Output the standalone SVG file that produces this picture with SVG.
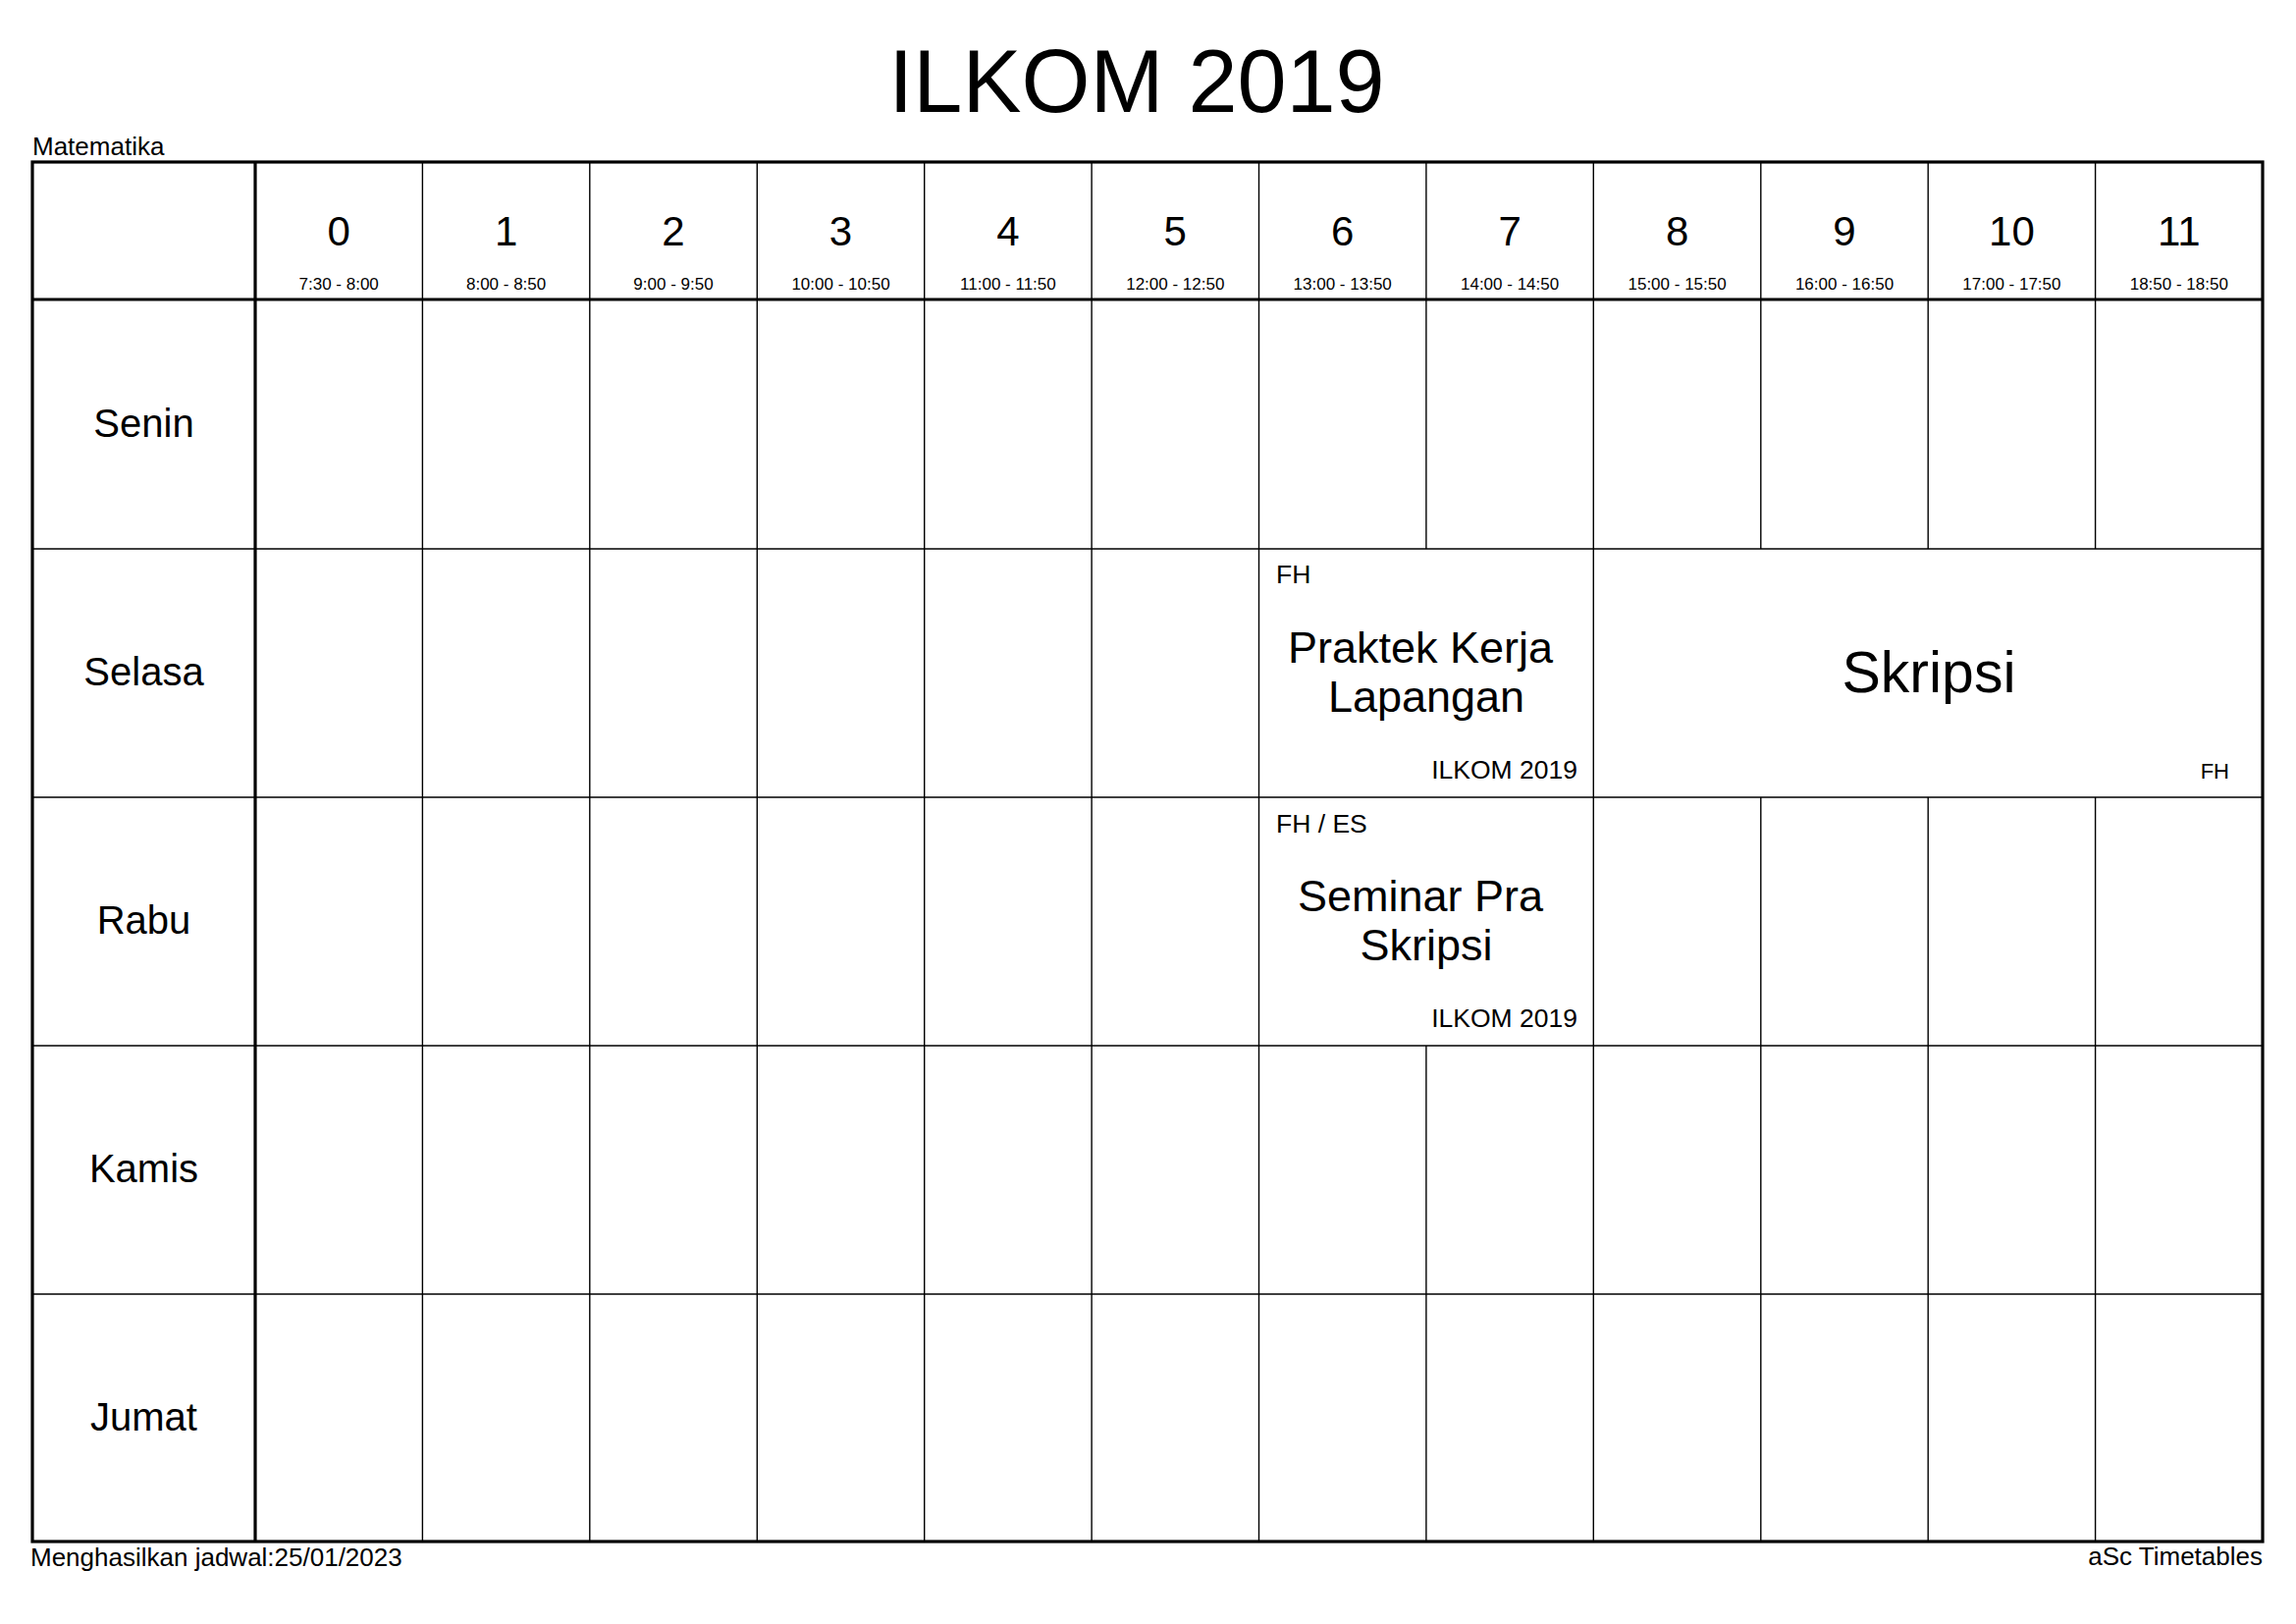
<svg xmlns="http://www.w3.org/2000/svg" width="2339" height="1654" viewBox="0 0 2339 1654">
<style>
text{font-family:"Liberation Sans",Arial,sans-serif;fill:#000}
.c{text-anchor:middle}
.e{text-anchor:end}
.num{font-size:42px}
.tm{font-size:17px}
.day{font-size:40px}
.sm{font-size:26px}
.cs{font-size:26.5px}
.subj{font-size:45px}
.thin{stroke:#000;stroke-width:1.4;fill:none}
.thick{stroke:#000;stroke-width:3.2;fill:none}
</style>
<rect width="2339" height="1654" fill="#fff"/>
<g id="title"><text class="c" x="1158" y="114" font-size="90">ILKOM 2019</text></g>
<g id="labels">
<text class="sm" x="33" y="158">Matematika</text>
<text class="sm" x="31" y="1595">Menghasilkan jadwal:25/01/2023</text>
<text class="sm e" x="2305" y="1594">aSc Timetables</text>
</g>
<g id="grid">
<g class="thin">
<path d="M33 559H2305M33 812H2305M33 1065H2305M33 1318H2305"/>
<path d="M430.4 165V1570M600.8 165V1570M771.3 165V1570M941.7 165V1570M1112.1 165V1570M1282.5 165V1570M1623.3 165V1570"/>
<path d="M1452.9 165V559M1452.9 1065V1570"/>
<path d="M1793.8 165V559M1793.8 812V1570M1964.2 165V559M1964.2 812V1570M2134.6 165V559M2134.6 812V1570"/>
</g>
<g class="thick">
<rect x="33" y="165" width="2272" height="1405"/>
<path d="M33 305H2305M260 165V1570"/>
</g>
</g>
<g id="periods">
<g id="p0"><text class="c num" x="345.2" y="250">0</text><text class="c tm" x="345.2" y="295">7:30 - 8:00</text></g>
<g id="p1"><text class="c num" x="515.6" y="250">1</text><text class="c tm" x="515.6" y="295">8:00 - 8:50</text></g>
<g id="p2"><text class="c num" x="686" y="250">2</text><text class="c tm" x="686" y="295">9:00 - 9:50</text></g>
<g id="p3"><text class="c num" x="856.5" y="250">3</text><text class="c tm" x="856.5" y="295">10:00 - 10:50</text></g>
<g id="p4"><text class="c num" x="1026.9" y="250">4</text><text class="c tm" x="1026.9" y="295">11:00 - 11:50</text></g>
<g id="p5"><text class="c num" x="1197.3" y="250">5</text><text class="c tm" x="1197.3" y="295">12:00 - 12:50</text></g>
<g id="p6"><text class="c num" x="1367.7" y="250">6</text><text class="c tm" x="1367.7" y="295">13:00 - 13:50</text></g>
<g id="p7"><text class="c num" x="1538.1" y="250">7</text><text class="c tm" x="1538.1" y="295">14:00 - 14:50</text></g>
<g id="p8"><text class="c num" x="1708.6" y="250">8</text><text class="c tm" x="1708.6" y="295">15:00 - 15:50</text></g>
<g id="p9"><text class="c num" x="1879" y="250">9</text><text class="c tm" x="1879" y="295">16:00 - 16:50</text></g>
<g id="p10"><text class="c num" x="2049.4" y="250">10</text><text class="c tm" x="2049.4" y="295">17:00 - 17:50</text></g>
<g id="p11"><text class="c num" x="2219.8" y="250">11</text><text class="c tm" x="2219.8" y="295">18:50 - 18:50</text></g>
</g>
<g id="days">
<g id="senin"><text class="c day" x="146.5" y="445">Senin</text></g>
<g id="selasa"><text class="c day" x="146.5" y="698">Selasa</text></g>
<g id="rabu"><text class="c day" x="146.5" y="951">Rabu</text></g>
<g id="kamis"><text class="c day" x="146.5" y="1204">Kamis</text></g>
<g id="jumat"><text class="c day" x="146.5" y="1457">Jumat</text></g>
</g>
<g id="lesson-pkl">
<text class="cs" x="1300" y="594">FH</text>
<text class="c subj" x="1447" y="675">Praktek Kerja</text>
<text class="c subj" x="1453" y="725">Lapangan</text>
<text class="e cs" x="1607" y="793">ILKOM 2019</text>
</g>
<g id="lesson-skripsi">
<text class="c" x="1965" y="705" font-size="59">Skripsi</text>
<text class="e" x="2271" y="793" font-size="22">FH</text>
</g>
<g id="lesson-seminar">
<text class="cs" x="1300" y="848">FH / ES</text>
<text class="c subj" x="1447" y="928">Seminar Pra</text>
<text class="c subj" x="1453" y="978">Skripsi</text>
<text class="e cs" x="1607" y="1046">ILKOM 2019</text>
</g>
</svg>
